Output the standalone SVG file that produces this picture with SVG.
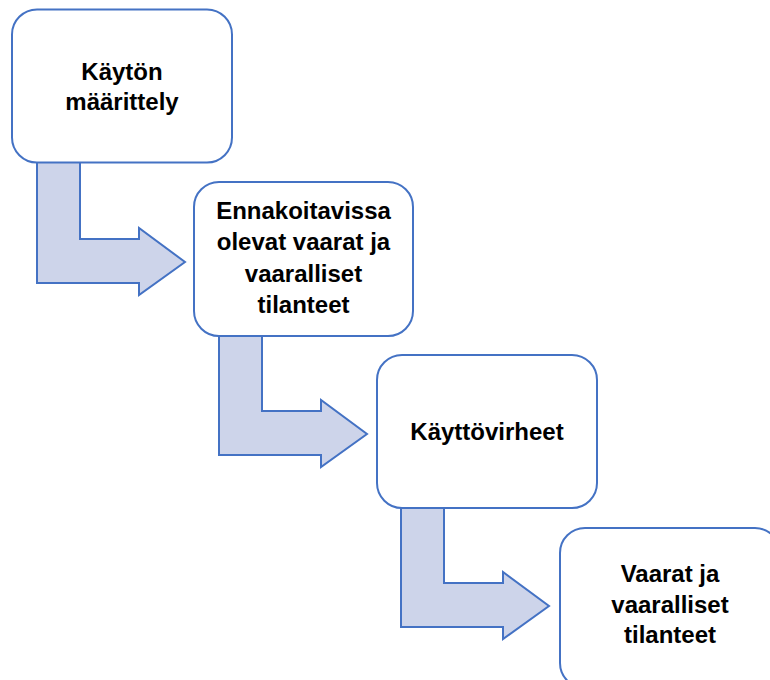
<svg xmlns="http://www.w3.org/2000/svg" width="770" height="680" viewBox="0 0 770 680">
  <style>
    .box { fill: #ffffff; stroke: #4472c4; stroke-width: 2; }
    .arrow { fill: #cdd4ea; stroke: #4472c4; stroke-width: 2; stroke-linejoin: miter; }
    .label { font-family: "Liberation Sans", Arial, sans-serif; font-weight: bold; font-size: 24px; fill: #000000; text-anchor: middle; }
  </style>
  <defs>
    <!-- bent arrow: stem down from a box, then right into the next box -->
    <path id="bent" d="M37,162 L80,162 L80,239 L139,239 L139,228 L185,262 L139,295 L139,283 L37,283 Z"/>
  </defs>

  <g id="connectors">
    <use href="#bent" class="arrow"/>
    <use href="#bent" class="arrow" transform="translate(182,172)"/>
    <use href="#bent" class="arrow" transform="translate(364,344)"/>
  </g>

  <g id="kayton-maarittely">
    <rect class="box" x="12" y="9.5" width="220" height="153" rx="25"/>
    <text class="label" x="122" y="80">Käytön</text>
    <text class="label" x="122" y="110">määrittely</text>
  </g>

  <g id="ennakoitavissa">
    <rect class="box" x="194" y="182" width="219" height="154" rx="25"/>
    <text class="label" x="303.5" y="219">Ennakoitavissa</text>
    <text class="label" x="303.5" y="250">olevat vaarat ja</text>
    <text class="label" x="303.5" y="282">vaaralliset</text>
    <text class="label" x="303.5" y="313">tilanteet</text>
  </g>

  <g id="kayttovirheet">
    <rect class="box" x="377" y="355" width="220" height="153" rx="25"/>
    <text class="label" x="487" y="440">Käyttövirheet</text>
  </g>

  <g id="vaarat">
    <rect class="box" x="560" y="528" width="220" height="160" rx="25"/>
    <text class="label" x="670" y="582">Vaarat ja</text>
    <text class="label" x="670" y="613">vaaralliset</text>
    <text class="label" x="670" y="643">tilanteet</text>
  </g>
</svg>
